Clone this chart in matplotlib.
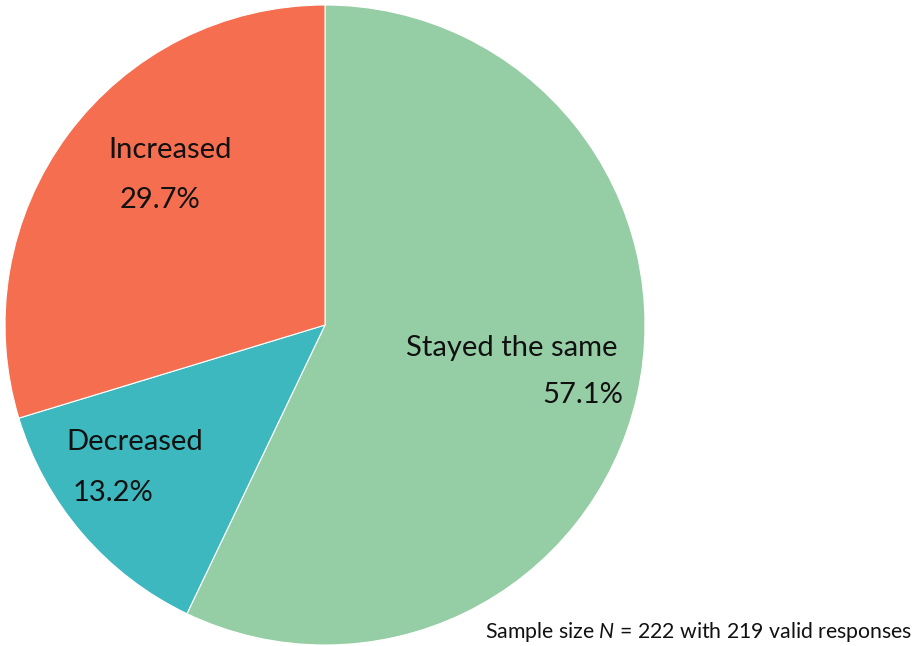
import matplotlib
matplotlib.use("Agg")
import matplotlib.pyplot as plt

plt.rcParams['font.family'] = ['Lato', 'DejaVu Sans']
plt.rcParams['mathtext.fontset'] = 'custom'
plt.rcParams['mathtext.it'] = 'Lato:italic'
plt.rcParams['mathtext.rm'] = 'Lato'

categories = ['Stayed the same', 'Decreased', 'Increased']
shares = [57.1, 13.2, 29.7]
colors = ['#95cda5', '#3db8be', '#f46e4f']
footer = 'Sample size $N$ = 222 with 219 valid responses'

W, H = 913, 646
fig = plt.figure(figsize=(W / 100, H / 100), dpi=100)
# pie box: centre (325, 325) px, radius 320 px
ax = fig.add_axes([5 / W, 1 / H, 640 / W, 640 / H])
ax.pie(shares, colors=colors, startangle=90, counterclock=False,
       wedgeprops=dict(edgecolor='white', linewidth=0.8))
ax.set_xlim(-1, 1)
ax.set_ylim(-1, 1)
ax.set_aspect('equal')

# label anchors in pie coords
label_pos = {'Stayed the same': [(0.584, -0.072), (0.806, -0.219)],
             'Decreased': [(-0.594, -0.366), (-0.663, -0.525)],
             'Increased': [(-0.484, 0.547), (-0.516, 0.391)]}
for name, val in zip(categories, shares):
    (x1, y1), (x2, y2) = label_pos[name]
    ax.text(x1, y1, name, ha='center', va='center', fontsize=21, color='#111111')
    ax.text(x2, y2, f'{val:.1f}%', ha='center', va='center', fontsize=21, color='#111111')

fig.text(912 / W, 1 - 632 / H, footer, ha='right', va='center', fontsize=15.3, color='#111111')

fig.savefig('out.png', dpi=100)
